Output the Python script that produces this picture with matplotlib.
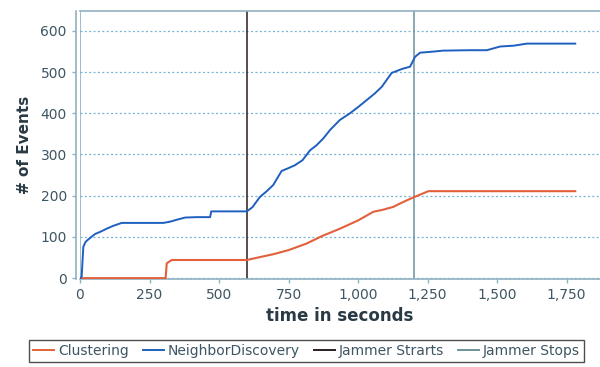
import matplotlib
matplotlib.use("Agg")
import matplotlib.pyplot as plt
from matplotlib.ticker import FuncFormatter
from matplotlib.lines import Line2D

# NeighborDiscovery events (time in s, cumulative count)
nd_t = [0, 6, 9, 12, 20, 30, 54, 75, 96, 120, 150, 200, 300, 324, 350, 378, 420, 468, 472,
        600, 620, 647, 670, 695, 725, 750, 773, 800, 827, 850, 875, 900, 935, 971, 1000,
        1031, 1060, 1085, 1121, 1160, 1187, 1205, 1223, 1260, 1306, 1400, 1463, 1511, 1560,
        1607, 1781]
nd_v = [0, 3, 40, 76, 88, 94, 107, 113, 120, 127, 134, 134, 134, 137, 142, 147, 148, 148, 162,
        162, 172, 197, 210, 226, 260, 267, 274, 286, 310, 322, 339, 360, 384, 400, 415,
        432, 448, 464, 498, 508, 513, 537, 547, 549, 552, 553, 553, 562, 564,
        569, 569]

# Clustering events
cl_t = [0, 308, 312, 330, 600, 640, 695, 750, 815, 870, 935, 1000, 1055, 1090, 1127, 1160,
        1199, 1253, 1781]
cl_v = [0, 0, 36, 44, 44, 50, 58, 68, 84, 102, 120, 140, 161, 166, 173, 184,
        196, 211, 211]

jammer_start = 600
jammer_stop = 1200

x_ticks = [0, 250, 500, 750, 1000, 1250, 1500, 1750]
y_ticks = [0, 100, 200, 300, 400, 500, 600]

c_cl = "#e2603c"
c_nd = "#1f5fbf"
c_js = "#2b1d1d"
c_jp = "#6a929c"
c_frame = "#8fb2c0"
c_text = "#3e5563"

fig = plt.figure(figsize=(6, 3.67), dpi=100)
ax = fig.add_axes([0.1333, 0.241, 0.8667, 0.730])

ax.plot(cl_t, cl_v, color=c_cl, lw=1.5, zorder=3)
ax.plot(nd_t, nd_v, color=c_nd, lw=1.4, zorder=3)
ax.axvline(jammer_start, color=c_js, lw=1.1, zorder=2)
ax.axvline(jammer_stop, color=c_jp, lw=1.1, zorder=2)

ax.set_xlim(0, 1870)
ax.set_ylim(-1, 649)
ax.set_xticks(x_ticks)
ax.set_yticks(y_ticks)
ax.xaxis.set_major_formatter(FuncFormatter(lambda v, p: f"{v:,.0f}"))
ax.grid(axis="y", color="#6fb0d4", ls=(0, (1.5, 2)), lw=0.9)
ax.tick_params(colors=c_frame, labelcolor=c_text, labelsize=10, length=3, width=1)

for s in ax.spines.values():
    s.set_color(c_frame)
    s.set_linewidth(1.2)
ax.spines["right"].set_visible(False)
ax.spines["left"].set_position(("outward", 3))
ax.axvline(0, color=c_frame, lw=1.2, zorder=1)

ax.set_xlabel("time in seconds", fontsize=12, fontweight="bold", color="#2a3a44", labelpad=4)
ax.set_ylabel("# of Events", fontsize=11, fontweight="bold", color="#2a3a44", labelpad=6)

handles = [Line2D([], [], color=c, lw=1.4) for c in (c_cl, c_nd, c_js, c_jp)]
labels = ["Clustering", "NeighborDiscovery", "Jammer Strarts", "Jammer Stops"]
leg = fig.legend(handles, labels, loc="center", bbox_to_anchor=(0.511, 0.044), ncol=4,
                 fontsize=10, frameon=True, fancybox=False, handlelength=1.5,
                 handletextpad=0.3, columnspacing=1.0, borderpad=0.3, borderaxespad=0.2,
                 labelcolor=c_text)
leg.get_frame().set_edgecolor("#222222")
leg.get_frame().set_linewidth(1.0)

fig.savefig("out.png", dpi=100)
